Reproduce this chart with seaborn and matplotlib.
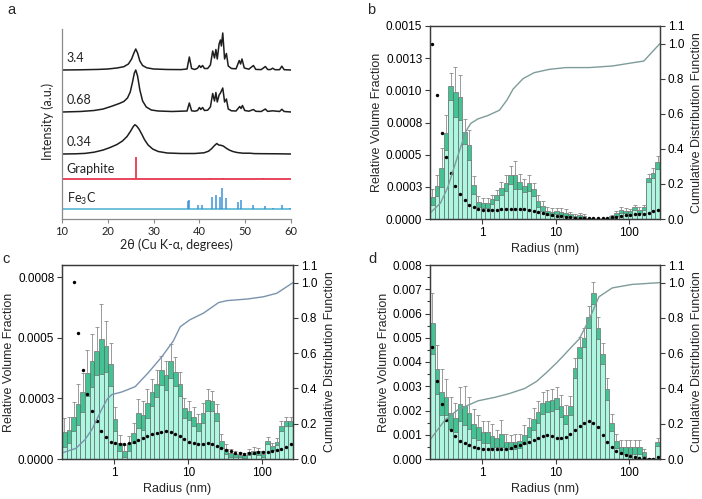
import numpy as np
import matplotlib
matplotlib.use("Agg")
import matplotlib.pyplot as plt
from matplotlib.ticker import NullLocator, FixedLocator
import seaborn as sns

# ---------------------------------------------------------------- data
# Panel a: XRD traces, intensity above each trace's own baseline (a.u.)
tt_34 = [10, 14, 18, 20, 22, 23.5, 24.5, 25.2, 25.7, 26.1, 26.5, 27.0, 27.6, 28.5, 30, 33, 36,
         37.3, 37.8, 38.3, 39.0, 39.6, 40.0, 40.3, 40.7, 41.1, 41.8, 42.4, 42.9, 43.3, 43.6,
         43.9, 44.3, 44.6, 44.8, 45.1, 45.5, 45.9, 46.3, 47.0, 48.0, 48.7, 49.0, 49.3, 49.8,
         50.8, 51.8, 52.3, 53.5, 54.4, 54.9, 55.5, 56.0, 56.5, 57.5, 58.0, 58.5, 60]
int_34 = [0, 0.2, 0.6, 1.0, 2.0, 3.3, 6.0, 11, 17, 21, 17, 9, 4.5, 2.2, 1.0, 0.5, 0.4,
          1.0, 13, 1.5, 0.5, 1.8, 4.5, 2.5, 4.5, 1.5, 1.5, 5, 19, 12, 20.5,
          11, 26, 30, 24, 37, 11, 16.5, 4, 1.5, 1.2, 9.5, 6, 11, 2,
          0.8, 4.5, 0.6, 0.4, 3.5, 0.5, 0.4, 1.8, 0.3, 0.3, 3.8, 0.3, 0]
tt_068 = [10, 14, 17, 19, 21, 22.5, 23.5, 24.3, 24.9, 25.4, 25.8, 26.1, 26.5, 27.0, 27.6, 28.4,
          29.5, 31, 34, 37.3, 37.8, 38.3, 39.0, 39.6, 40.0, 40.3, 40.7, 41.1, 41.8, 42.4, 42.9,
          43.3, 43.6, 43.9, 44.3, 44.6, 45.1, 45.5, 45.9, 46.3, 47.0, 48.0, 48.8, 49.1, 49.4,
          49.9, 50.8, 51.8, 52.3, 53.5, 54.4, 54.9, 56.0, 57.5, 58.0, 58.5, 60]
int_068 = [0, 0.5, 1.5, 3, 6, 8.5, 10.5, 14, 20, 30, 39, 42, 36, 22, 11, 5,
           2, 1, 0.5, 1.0, 9, 1.2, 0.8, 1.5, 4.5, 2.5, 4.5, 1.5, 1.8, 5, 18.5,
           11, 19.5, 10, 17, 19, 24, 10, 13, 3, 1.2, 1.0, 5.5, 3.5, 6.5,
           1.5, 0.8, 2.5, 0.7, 0.5, 3, 0.6, 1.2, 0.5, 2.7, 0.5, 0]
tt_034 = [10, 13, 15, 17, 19, 20.5, 22, 23.2, 24.2, 25.0, 25.5, 25.9, 26.3, 26.8, 27.4, 28.0,
          28.8, 29.8, 31, 33, 36, 39, 41, 42, 42.7, 43.3, 43.8, 44.2, 44.7, 45.2, 45.8, 46.5,
          47.3, 48.2, 49.5, 51, 52, 54, 57, 60]
int_034 = [0, 0.2, 0.6, 1.8, 4, 6.5, 9.5, 13, 17.5, 23, 27, 29.3, 28, 25, 20, 14.5,
           9, 5, 2.5, 1.0, 0.5, 0.5, 1.2, 2.8, 5.5, 8.5, 10.5, 9, 8.7, 8, 6, 4,
           2.5, 1.5, 0.8, 0.8, 0.4, 0.3, 0.2, 0]
graphite_pos = [26.1, 42.3, 45.2, 53.8, 55.4]
graphite_int = [21.7, 1.0, 0.8, 0.6, 0.4]
fe3c_pos = [37.6, 37.8, 39.8, 40.6, 42.8, 43.7, 44.5, 45.0, 45.9, 48.5, 49.1, 51.8, 54.4, 56.0, 58.0, 59.8]
fe3c_int = [8.5, 9.0, 4.3, 4.3, 12, 13.7, 12, 21, 11.3, 7, 9.3, 3.7, 2.7, 1.3, 3.7, 1.3]
trace_labels = ["3.4", "0.68", "0.34", "Graphite", "Fe$_3$C"]

# Panels b-d: McSAS size histograms (50 log-spaced radius bins)
R_MIN, R_MAX, N_BINS = 0.195, 263.0, 50

b_vol = [1.73, 2.6, 4.0, 6.7, 10.3, 9.85, 9.45, 6.8, 5.75, 2.64, 1.35, 1.22, 1.27, 1.53, 1.86,
         2.4, 2.8, 3.4, 3.4, 2.9, 2.6, 2.8, 2.3, 1.4, 1.0, 0.6, 0.55, 0.6, 0.55, 0.5, 0.35, 0.2,
         0.3, 0.2, 0.05, 0.03, 0.03, 0.03, 0.05, 0.2, 0.45, 0.7, 0.65, 0.6, 0.9, 0.7, 0.9, 3.2,
         3.6, 4.4]
b_err = [0.62, 0.85, 1.5, 1.35, 1.05, 1.95, 1.75, 0.95, 1.15, 0.68, 0.45, 0.4, 0.4, 0.35, 0.4,
         0.5, 0.6, 0.7, 1.1, 0.6, 0.5, 0.6, 0.5, 0.5, 0.4, 0.3, 0.3, 0.25, 0.3, 0.25, 0.2, 0.2,
         0.2, 0.2, 0.05, 0.03, 0.03, 0.03, 0.05, 0.1, 0.2, 0.2, 0.2, 0.2, 0.2, 0.2, 0.2, 0.3,
         0.4, 0.5]
b_dots = [13.6, 9.6, 6.7, 4.85, 3.6, 2.6, 1.95, 1.45, 1.1, 0.9, 0.75, 0.7, 0.7, 0.7, 0.72, 0.75,
          0.78, 0.8, 0.8, 0.78, 0.75, 0.7, 0.62, 0.55, 0.47, 0.4, 0.33, 0.27, 0.22, 0.17, 0.13,
          0.1, 0.08, 0.06, 0.05, 0.04, 0.04, 0.05, 0.08, 0.12, 0.18, 0.24, 0.3, 0.33, 0.35, 0.38,
          0.42, 0.5, 0.6, 0.7]
b_cdf_r = [0.196, 0.27, 0.34, 0.45, 0.6, 0.7, 0.87, 1.2, 1.72, 2.19, 2.63, 3.6, 5.1, 8.2,
           13.8, 28.5, 59, 110, 158, 263]
b_cdf = [0.035, 0.09, 0.18, 0.34, 0.5, 0.545, 0.57, 0.59, 0.62, 0.68, 0.74, 0.8, 0.834,
         0.853, 0.863, 0.863, 0.872, 0.89, 0.9, 1.0]

c_vol = [1.1, 1.2, 1.75, 2.25, 2.75, 3.55, 4.05, 4.45, 4.95, 4.65, 3.9, 1.65, 0.66, 0.32, 0.64,
         1.08, 1.88, 1.8, 2.3, 2.75, 3.1, 3.65, 3.45, 4.05, 3.6, 3.1, 2.1, 2.0, 1.75, 1.5, 1.9,
         2.45, 2.4, 1.9, 0.75, 0.4, 0.25, 0.22, 0.18, 0.15, 0.28, 0.35, 0.32, 0.22, 0.75, 0.52,
         0.72, 1.35, 1.55, 1.55]
c_err = [0.6, 0.55, 0.6, 0.85, 0.8, 0.95, 1.1, 1.0, 1.45, 1.05, 0.9, 0.5, 0.35, 0.25, 0.3, 0.4,
         0.6, 0.6, 0.6, 0.55, 0.55, 0.6, 0.6, 0.7, 0.6, 0.5, 0.4, 0.4, 0.4, 0.35, 0.4, 0.45, 0.4,
         0.35, 0.3, 0.2, 0.15, 0.12, 0.1, 0.1, 0.12, 0.15, 0.15, 0.12, 0.15, 0.15, 0.15, 0.2,
         0.2, 0.2]
c_dots = [np.nan, np.nan, 7.3, 5.2, 3.65, 2.7, 2.0, 1.55, 1.15, 0.9, 0.72, 0.64, 0.62, 0.62,
          0.65, 0.72, 0.8, 0.87, 0.95, 1.02, 1.08, 1.13, 1.15, 1.12, 1.05, 0.95, 0.82, 0.72,
          0.64, 0.6, 0.62, 0.64, 0.6, 0.52, 0.44, 0.37, 0.31, 0.26, 0.23, 0.22, 0.23, 0.25,
          0.27, 0.29, 0.3, 0.32, 0.36, 0.42, 0.5, 0.6]
c_cdf_r = [0.193, 0.3, 0.4, 0.5, 0.67, 0.8, 0.92, 1.26, 1.91, 2.89, 4.4, 6.3, 7.8, 10.6, 16.1,
           25.8, 33.5, 62.6, 105, 159, 263]
c_cdf = [0.034, 0.06, 0.11, 0.17, 0.28, 0.34, 0.365, 0.38, 0.41, 0.49, 0.58, 0.67, 0.75, 0.79,
         0.827, 0.887, 0.898, 0.907, 0.92, 0.94, 1.0]

d_vol = [5.6, 3.7, 2.75, 2.55, 1.9, 1.7, 2.25, 2.2, 1.9, 1.45, 1.3, 1.1, 1.1, 0.95, 0.85, 1.05,
         0.72, 0.7, 0.72, 0.75, 1.0, 1.3, 1.65, 1.95, 2.3, 2.4, 2.45, 2.5, 2.2, 1.83, 2.2, 3.75,
         4.6, 5.0, 5.85, 6.85, 5.4, 4.35, 2.9, 1.5, 0.75, 0.5, 0.5, 0.5, 0.5, 0.5, 0.28, 0.03,
         0.02, 0.7]
d_err = [1.25, 1.0, 0.95, 0.75, 0.65, 0.6, 0.7, 0.8, 0.65, 0.6, 0.5, 0.45, 0.45, 0.5, 0.35, 0.55,
         0.3, 0.3, 0.3, 0.3, 0.4, 0.4, 0.45, 0.45, 0.45, 0.45, 0.45, 0.45, 0.45, 0.4, 0.4, 0.4,
         0.45, 0.4, 0.45, 0.45, 0.45, 0.45, 0.45, 0.35, 0.3, 0.3, 0.3, 0.3, 0.3, 0.3, 0.15, 0.03,
         0.02, 0.15]
d_dots = [4.6, 3.2, 2.25, 1.62, 1.2, 0.93, 0.75, 0.64, 0.56, 0.5, 0.46, 0.43, 0.41, 0.4, 0.4,
          0.41, 0.43, 0.47, 0.52, 0.58, 0.65, 0.72, 0.8, 0.88, 0.95, 1.0, 0.95, 0.87, 0.86, 0.92,
          1.05, 1.2, 1.35, 1.5, 1.55, 1.5, 1.3, 1.0, 0.7, 0.5, 0.35, 0.25, 0.18, 0.12, 0.08,
          0.05, 0.03, 0.02, 0.02, 0.1]
d_cdf_r = [0.196, 0.31, 0.47, 0.88, 1.5, 2.3, 3.8, 5.5, 7.5, 10, 12.4, 16, 20.9, 28.5, 38.9,
           58.9, 110, 263]
d_cdf = [0.11, 0.22, 0.28, 0.33, 0.35, 0.37, 0.40, 0.44, 0.49, 0.54, 0.58, 0.63, 0.68, 0.79,
         0.92, 0.97, 0.99, 1.0]

b_yticklabels = ["0.0000", "0.0003", "0.0005", "0.0008", "0.0010", "0.0013", "0.0015"]
c_yticklabels = ["0.0000", "0.0003", "0.0005", "0.0008"]
d_yticklabels = ["0.000", "0.001", "0.002", "0.003", "0.004", "0.005", "0.006", "0.007", "0.008"]
cdf_ticklabels = ["0.0", "0.2", "0.4", "0.6", "0.8", "1.0", "1.1"]
x_ticklabels = ["1", "10", "100"]

# ---------------------------------------------------------------- style
sns.set_style("ticks")
plt.rcParams["font.family"] = ["Liberation Sans", "DejaVu Sans"]
plt.rcParams["mathtext.default"] = "regular"

W, H = 702, 499
fig = plt.figure(figsize=(W / 100, H / 100), dpi=100)

LIGHT = "#adf7e0"
DARK = "#45c293"
EDGE = "#5a5a5a"
ERRC = "#8a8a8a"
SPINE = "#3c3c3c"

edges = np.geomspace(R_MIN, R_MAX, N_BINS + 1)
centers = np.sqrt(edges[:-1] * edges[1:])
log_range = (np.log10(R_MIN), np.log10(R_MAX))


def rect(l, t, r, b):
    return [l / W, 1 - b / H, (r - l) / W, (b - t) / H]


def size_panel(rc, vol, err, dots, cdf_r, cdf_v, scale, ymax, ystep, yticklabels,
               cdf_color, minor_step=None):
    ax = fig.add_axes(rc)
    vol = np.asarray(vol, float) * scale
    err = np.asarray(err, float) * scale
    low = np.clip(vol - err, 0, None)
    sns.histplot(x=centers, weights=vol, bins=N_BINS, binrange=log_range, log_scale=True,
                 ax=ax, color=DARK, edgecolor=EDGE, linewidth=0.4, alpha=1)
    sns.histplot(x=centers, weights=low, bins=N_BINS, binrange=log_range, log_scale=True,
                 ax=ax, color=LIGHT, edgecolor=EDGE, linewidth=0.4, alpha=1)
    ax.errorbar(centers, vol, yerr=[np.zeros_like(err), err], fmt="none", ecolor=ERRC,
                elinewidth=0.6, capsize=1.4, capthick=0.6, zorder=3)
    sns.scatterplot(x=centers, y=np.asarray(dots, float) * scale, ax=ax, color="black",
                    s=6, linewidth=0, zorder=4, legend=False)
    ax.set_xlim(R_MIN, R_MAX)
    ax.set_ylim(0, ymax)
    yt = np.arange(len(yticklabels)) * ystep
    ax.yaxis.set_major_locator(FixedLocator(yt))
    ax.set_yticklabels(yticklabels)
    if minor_step:
        ax.yaxis.set_minor_locator(FixedLocator(np.arange(0, ymax + 1e-12, minor_step)))
    else:
        ax.yaxis.set_minor_locator(NullLocator())
    ax.xaxis.set_major_locator(FixedLocator([1, 10, 100]))
    ax.set_xticklabels(x_ticklabels)
    ax.xaxis.set_minor_locator(NullLocator())
    ax.set_xlabel("Radius (nm)", fontsize=9, labelpad=3)
    ax.set_ylabel("Relative Volume Fraction", fontsize=9, labelpad=2)
    ax.tick_params(which="both", direction="out", length=3.5, width=0.8, colors=SPINE,
                   labelsize=8.5, labelcolor="black", pad=2)
    ax.tick_params(which="minor", length=2.5)
    for s in ax.spines.values():
        s.set_color(SPINE)
        s.set_linewidth(0.9)

    ax2 = ax.twinx()
    sns.lineplot(x=cdf_r, y=cdf_v, ax=ax2, color=cdf_color, linewidth=1.0)
    ax2.set_ylim(0, 1.1)
    ax2.yaxis.set_major_locator(FixedLocator([0, 0.2, 0.4, 0.6, 0.8, 1.0, 1.1]))
    ax2.set_yticklabels(cdf_ticklabels)
    ax2.set_ylabel("Cumulative Distribution Function", fontsize=9, labelpad=5)
    ax2.tick_params(direction="out", length=3.5, width=0.8, colors=SPINE, labelsize=8.5,
                    labelcolor="black", pad=2)
    for s in ax2.spines.values():
        s.set_color(SPINE)
        s.set_linewidth(0.9)
    ax2.set_xlim(R_MIN, R_MAX)
    return ax


# ---------------------------------------------------------------- panel a
AFONT = ["Lato", "DejaVu Sans"]
axa = fig.add_axes(rect(62, 24, 291, 219))
baselines = [149, 107, 65, 40, 10]
for tt, inten, base in zip([tt_34, tt_068, tt_034], [int_34, int_068, int_034], baselines[:3]):
    sns.lineplot(x=tt, y=np.asarray(inten) + base, ax=axa, color="#1e1e1e", linewidth=1.1)
RED, BLUE, CYAN = "#e8374f", "#3a93d8", "#64bcd6"
axa.axhline(baselines[3], color=RED, linewidth=1.3)
axa.vlines(graphite_pos, baselines[3], baselines[3] + np.asarray(graphite_int), color=RED,
           linewidth=1.3)
axa.axhline(baselines[4], color=CYAN, linewidth=1.3)
axa.vlines(fe3c_pos, baselines[4], baselines[4] + np.asarray(fe3c_int), color=BLUE,
           linewidth=1.1)
label_y = [161, 119, 77, 50, 20]
for lab, y in zip(trace_labels, label_y):
    axa.text(11.0, y, lab, fontsize=9, va="center", ha="left", family=AFONT, color="#222222")
axa.set_xlim(10, 60)
axa.set_ylim(0, 195)
axa.spines[["top", "right"]].set_visible(False)
axa.spines["left"].set_bounds(0, 190)
for s in ["left", "bottom"]:
    axa.spines[s].set_color("#8a8a8a")
    axa.spines[s].set_linewidth(0.9)
axa.set_yticks([])
axa.set_xticks([10, 20, 30, 40, 50, 60])
axa.tick_params(axis="x", direction="out", length=3, width=0.8, colors="#8a8a8a",
                labelcolor="#222222", labelsize=8, pad=2)
for t in axa.get_xticklabels():
    t.set_family(AFONT)
axa.set_xlabel("2θ (Cu K-α, degrees)", fontsize=9, family=AFONT, labelpad=1, color="#222222")
axa.set_ylabel("Intensity (a.u.)", fontsize=9, family=AFONT, labelpad=6, color="#222222")

# ---------------------------------------------------------------- panels b-d
size_panel(rect(430, 26, 660, 219), b_vol, b_err, b_dots, b_cdf_r, b_cdf, 1e-4, 0.0015,
           0.00025, b_yticklabels, "#7e9c9a")
size_panel(rect(62, 265, 293, 459), c_vol, c_err, c_dots, c_cdf_r, c_cdf, 1e-4, 0.0008,
           0.00025, c_yticklabels, "#7a93ad")
size_panel(rect(430, 265, 660, 459), d_vol, d_err, d_dots, d_cdf_r, d_cdf, 1e-3, 0.008,
           0.001, d_yticklabels, "#7e9c9a", minor_step=0.0005)

for lab, x, y in [("a", 7, 10), ("b", 367, 10), ("c", 2, 259), ("d", 368, 259)]:
    fig.text(x / W, 1 - y / H, lab, fontsize=10.5, ha="left", va="center")

fig.savefig("out.png", dpi=100)
